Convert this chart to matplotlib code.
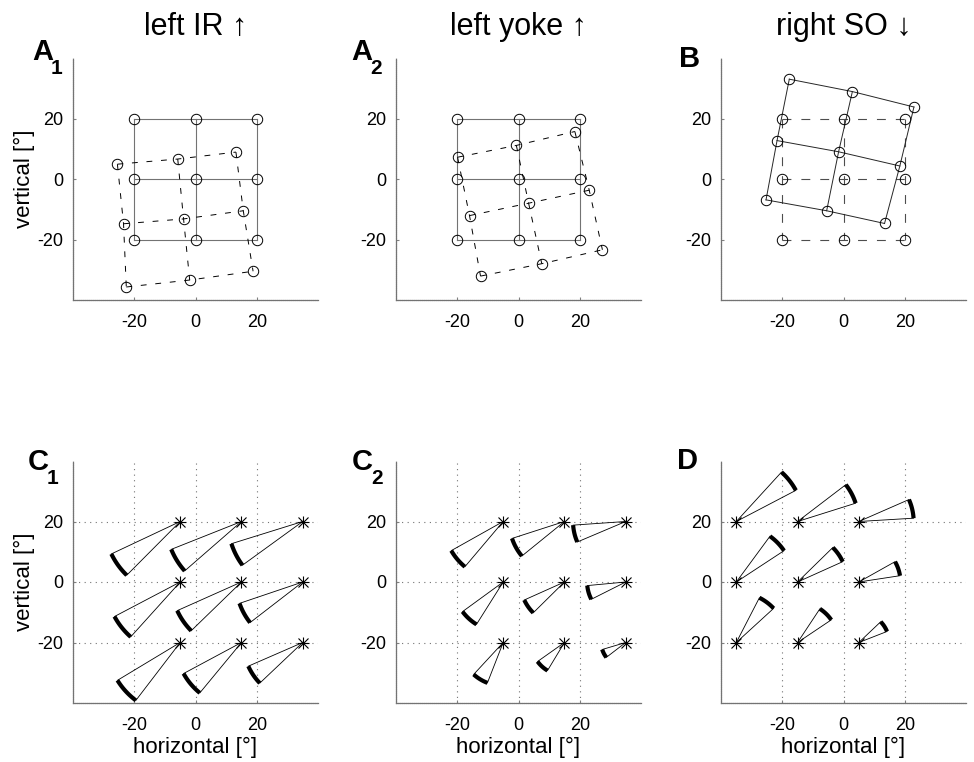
import numpy as np
import matplotlib
matplotlib.use("Agg")
import matplotlib.pyplot as plt

plt.rcParams['font.family'] = ['Liberation Sans', 'DejaVu Sans']
plt.rcParams['axes.unicode_minus'] = False

# reference grid (target positions)
grid_pos = [-20, 0, 20]

# A1: left IR up - displaced grid (rows top->bottom, cols left->right)
a1_x = [[-25.5, -5.8, 13.2], [-23.5, -3.9, 15.6], [-22.6, -1.9, 18.8]]
a1_y = [[4.9, 6.6, 8.9], [-14.8, -13.2, -10.5], [-35.7, -33.4, -30.5]]
# A2: left yoke up
a2_x = [[-19.9, -0.7, 18.4], [-16.0, 3.3, 23.1], [-12.4, 7.6, 27.4]]
a2_y = [[7.2, 11.1, 15.7], [-12.1, -8.0, -3.7], [-32.1, -28.0, -23.4]]
# B: right SO down
b_x = [[-17.7, 2.9, 23.0], [-21.7, -1.6, 18.4], [-25.3, -5.5, 13.4]]
b_y = [[33.0, 28.9, 23.8], [12.7, 9.0, 4.3], [-6.9, -10.5, -14.7]]

# wedge centres
c_cx = [-5, 15, 35]
d_cx = [-35, -15, 5]
w_cy = [20, 0, -20]

# wedges: radius, start angle, end angle (deg)
c1_r = [[24.9, 24.7, 24.4], [24.3, 23.0, 21.8], [24.0, 21.5, 19.4]]
c1_a1 = [[205.5, 201.9, 197.5], [208.0, 204.3, 198.9], [211.4, 208.5, 203.8]]
c1_a2 = [[225.5, 221.4, 216.3], [228.3, 224.5, 218.0], [232.9, 230.8, 223.8]]

c2_r = [[19.5, 18.0, 17.2], [16.5, 14.4, 12.6], [14.3, 10.8, 8.0]]
c2_a1 = [[209.6, 198.1, 184.0], [216.4, 204.4, 185.4], [227.6, 215.6, 196.8]]
c2_a2 = [[230.1, 219.4, 203.2], [238.1, 225.0, 207.0], [248.9, 239.2, 217.9]]

d_r = [[22.0, 19.9, 17.9], [18.7, 16.2, 13.6], [16.6, 13.3, 9.9]]
d_a1 = [[27.9, 17.7, 3.5], [33.6, 24.5, 8.8], [42.8, 34.2, 21.6]]
d_a2 = [[47.9, 37.7, 23.9], [54.0, 44.7, 29.6], [63.0, 56.8, 43.8]]

titles = ["left IR \u2191", "left yoke \u2191", "right SO \u2193"]

W, H = 974, 762
fig = plt.figure(figsize=(W / 100, H / 100), dpi=100)

col_left = [73, 396, 721]
row_top = [58, 461]
ax_w, ax_h = 245, 242


def make_ax(col, row):
    l = col_left[col] / W
    b = 1 - (row_top[row] + ax_h) / H
    ax = fig.add_axes([l, b, ax_w / W, ax_h / H])
    ax.set_xlim(-40, 40)
    ax.set_ylim(-40, 40)
    ax.set_xticks(grid_pos)
    ax.set_yticks(grid_pos)
    for s in ['top', 'right']:
        ax.spines[s].set_visible(False)
    for s in ['left', 'bottom']:
        ax.spines[s].set_color('0.45')
        ax.spines[s].set_linewidth(0.9)
        ax.spines[s].set_linestyle((0, (1, 0.6)))
    ax.tick_params(direction='in', length=2, color='0.5', labelsize=13, pad=7)
    ax.tick_params(axis='x', pad=10)
    return ax


def draw_grid(ax, gx, gy, ls, color, lw, dashes=None):
    gx = np.asarray(gx)
    gy = np.asarray(gy)
    kw = dict(color=color, lw=lw, zorder=2)
    for i in range(3):
        for line in (ax.plot(gx[i], gy[i], **kw), ax.plot(gx[:, i], gy[:, i], **kw)):
            line[0].set_linestyle(ls)
            if dashes:
                line[0].set_dashes(dashes)
    ax.plot(gx.ravel(), gy.ravel(), 'o', mfc='none', mec='black', ms=7.5, mew=0.7, zorder=3)


def add_ylabel(ax):
    ax.set_ylabel("vertical [\u00b0]", fontsize=16)
    ax.yaxis.set_label_coords((35 - 73) / ax_w, 0.5)


ref_x, ref_y = np.meshgrid(grid_pos, grid_pos[::-1])

# top row
for col, (dx, dy) in enumerate([(a1_x, a1_y), (a2_x, a2_y), (b_x, b_y)]):
    ax = make_ax(col, 0)
    if col < 2:
        draw_grid(ax, ref_x, ref_y, '-', '0.45', 0.8)
        draw_grid(ax, dx, dy, '--', 'black', 0.7, dashes=(6, 9))
    else:
        draw_grid(ax, ref_x, ref_y, '--', '0.3', 0.8, dashes=(8, 9))
        draw_grid(ax, dx, dy, '-', '0.15', 0.7)
    fig.text((col_left[col] + ax_w / 2) / W, 1 - 35 / H, titles[col],
             ha='center', va='baseline', fontsize=22)
    if col == 0:
        add_ylabel(ax)

# bottom row
wedge_sets = [(c_cx, c1_r, c1_a1, c1_a2), (c_cx, c2_r, c2_a1, c2_a2), (d_cx, d_r, d_a1, d_a2)]
for col, (cx, rr, aa1, aa2) in enumerate(wedge_sets):
    ax = make_ax(col, 1)
    for g in grid_pos:
        ax.axvline(g, color='0.45', lw=0.8, ls=(0, (1, 4)), zorder=1)
        ax.axhline(g, color='0.45', lw=0.8, ls=(0, (1, 4)), zorder=1)
    for i in range(3):
        for j in range(3):
            x0, y0 = cx[j], w_cy[i]
            r = rr[i][j]
            th = np.radians(np.linspace(aa1[i][j], aa2[i][j], 30))
            xs = x0 + r * np.cos(th)
            ys = y0 + r * np.sin(th)
            ax.plot([x0, xs[0]], [y0, ys[0]], color='black', lw=0.6, zorder=2)
            ax.plot([x0, xs[-1]], [y0, ys[-1]], color='black', lw=0.6, zorder=2)
            ax.plot(xs, ys, color='black', lw=3.0, solid_capstyle='butt', zorder=3)
    px = np.repeat([cx], 3, axis=0).ravel()
    py = np.repeat(w_cy, 3)
    ax.plot(px, py, '+', color='black', ms=9, mew=0.8, zorder=4)
    ax.plot(px, py, 'x', color='black', ms=7, mew=0.8, zorder=4)
    ax.set_xlabel("horizontal [\u00b0]", fontsize=16, labelpad=2)
    if col == 0:
        add_ylabel(ax)

# panel labels
labels = [("A", "1", 32, 60), ("A", "2", 351, 60), ("B", "", 679, 67),
          ("C", "1", 28, 470), ("C", "2", 352, 470), ("D", "", 677, 469)]
for big, sub, lx, ly in labels:
    fig.text(lx / W, 1 - ly / H, big, fontsize=21, fontweight='bold', va='baseline')
    if sub:
        fig.text((lx + 19) / W, 1 - (ly + 14) / H, sub, fontsize=15,
                 fontweight='bold', va='baseline')

fig.savefig("out.png", dpi=100)
